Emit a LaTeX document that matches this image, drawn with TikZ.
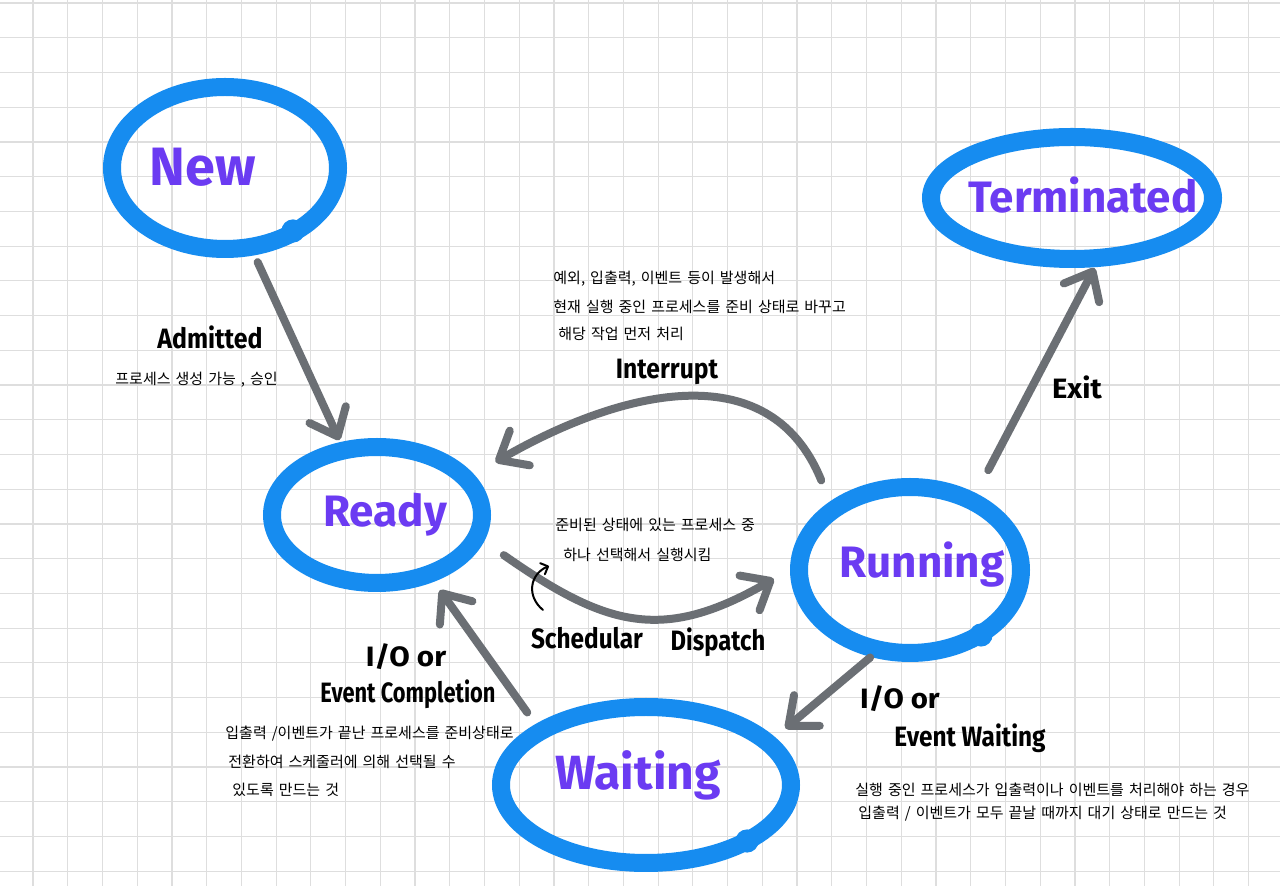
\documentclass[tikz,border=0pt]{standalone}
\usepackage{fontspec}
\newfontfamily\enfont{Fira Sans}
\newfontfamily\kofont[WordSpace=1.5]{Noto Sans CJK KR}
\usetikzlibrary{arrows.meta,shapes.geometric}
\definecolor{ringblue}{HTML}{168CF0}
\definecolor{statepurple}{HTML}{6B3BF2}
\definecolor{arrowgray}{HTML}{6B6F74}
\definecolor{gridgray}{HTML}{DEDEDE}
\newcommand\sqz[2]{\scalebox{#1}[1]{#2}}
\begin{document}
\begin{tikzpicture}[x=0.5pt,y=0.5pt,
  gridline/.style={draw=gridgray, line width=0.6pt},
  ring/.style={draw=ringblue, line width=9pt, ellipse, inner sep=0pt, outer sep=0pt},
  ringblob/.style={fill=ringblue},
  statename/.style={text=statepurple, font=\enfont\bfseries\fontsize{22}{26}\selectfont, inner sep=0pt},
  lbl/.style={font=\enfont\bfseries\fontsize{14}{17}\selectfont, inner sep=0pt},
  note/.style={font=\kofont\fontsize{7.5}{9}\selectfont, inner sep=0pt, anchor=west},
  flow/.style={draw=arrowgray, line width=4pt, line cap=round, -{Straight Barb[length=12pt,width=20pt,round]}},
  hookarrow/.style={draw=black, line width=1pt, line cap=round, -{Straight Barb[length=3pt,width=6pt,round]}},
]
\useasboundingbox (0,0) rectangle (1280,-886);
\fill[white] (0,0) rectangle (1280,-886);
\foreach \i in {0,...,36} \draw[gridline] ({33+34.73*\i},0) -- ({33+34.73*\i},-886);
\foreach \j in {0,...,25} \draw[gridline] (0,{-3-34.73*\j}) -- (1280,{-3-34.73*\j});

% state rings
\node[ring, minimum width=113pt, minimum height=81pt] (new) at (225,-168) {};
\node[ring, minimum width=141pt, minimum height=61pt] (terminated) at (1072,-198) {};
\node[ring, minimum width=105pt, minimum height=68pt] (ready) at (377,-515) {};
\node[ring, minimum width=111pt, minimum height=83pt] (running) at (910,-570) {};
\node[ring, minimum width=145pt, minimum height=78pt] (waiting) at (646,-785) {};
% hand-drawn stroke ends (small bulges on the rings)
\fill[ringblob] (293,-231) circle[radius=5.8pt];
\fill[ringblob] (981,-635) circle[radius=5.8pt];
\fill[ringblob] (747,-841) circle[radius=5.8pt];

% state names
\node[statename, font=\enfont\bfseries\fontsize{27}{30}\selectfont] (newname) at (203,-167) {New};
\node[statename] (termname) at (1083,-195) {Terminated};
\node[statename] (readyname) at (385,-515) {Ready};
\node[statename] (runname) at (922,-565) {Running};
\node[statename, font=\enfont\bfseries\fontsize{24}{28}\selectfont] (waitname) at (638,-775) {Waiting};

% transitions
\draw[flow, shorten <=8.4pt, shorten >=5.7pt] (new.-72) -- (ready.117);
\draw[flow, shorten <=16pt, shorten >=17pt] (running.142) to[out=112,in=30,looseness=1.2] (ready.22);
\draw[flow, shorten <=16.5pt, shorten >=14.7pt] (ready.-12) to[out=-35,in=-150,looseness=1.25] (running.177);
\draw[flow, shorten <=17.5pt, shorten >=5.8pt] (running.48) -- (terminated.-65);
\draw[flow, shorten <=6pt, shorten >=11.3pt] (running.-111) -- (waiting.19);
\draw[flow, shorten <=11.6pt, shorten >=9.75pt] (waiting.153) -- (ready.-49);

% labels
\node[lbl] (admitted) at (210,-337) {\sqz{0.89}{Admitted}};
\node[note] (admittednote) at (115,-380) {프로세스 생성 가능 , 승인};

\node[note] (intnote1) at (553,-279) {예외, 입출력, 이벤트 등이 발생해서};
\node[note] (intnote2) at (553,-307) {현재 실행 중인 프로세스를 준비 상태로 바꾸고};
\node[note] (intnote3) at (558,-334) {해당 작업 먼저 처리};
\node[lbl] (interrupt) at (667,-372) {\sqz{0.88}{Interrupt}};

\node[lbl] (exit) at (1077,-387) {\sqz{1.04}{Exit}};

\node[note] (dispnote1) at (555,-525) {준비된 상태에 있는 프로세스 중};
\node[note] (dispnote2) at (563,-555) {하나 선택해서 실행시킴};
\node[lbl] (schedular) at (587,-638) {\sqz{0.87}{Schedular}};
\node[lbl] (dispatch) at (718,-642) {\sqz{0.85}{Dispatch}};
\coordinate (hookstart) at (543,-610);
\coordinate (hookend) at (549,-566);
\draw[hookarrow] (hookstart) .. controls (526,-596) and (530,-574) .. (hookend);

\node[lbl] (io1) at (406,-657) {\sqz{1.06}{I/O or}};
\node[lbl] (evcomp) at (408,-694) {\sqz{0.78}{Event Completion}};
\node[note] (compnote1) at (225,-734) {입출력 /이벤트가 끝난 프로세스를 준비상태로};
\node[note] (compnote2) at (228,-762) {전환하여 스케줄러에 의해 선택될 수};
\node[note] (compnote3) at (232,-790) {있도록 만드는 것};

\node[lbl] (io2) at (900,-699) {\sqz{1.05}{I/O or}};
\node[lbl] (evwait) at (970,-738) {\sqz{0.87}{Event Waiting}};
\node[note] (waitnote1) at (855,-790) {실행 중인 프로세스가 입출력이나 이벤트를 처리해야 하는 경우};
\node[note] (waitnote2) at (858,-814) {입출력 / 이벤트가 모두 끝날 때까지 대기 상태로 만드는 것};
\end{tikzpicture}
\end{document}
